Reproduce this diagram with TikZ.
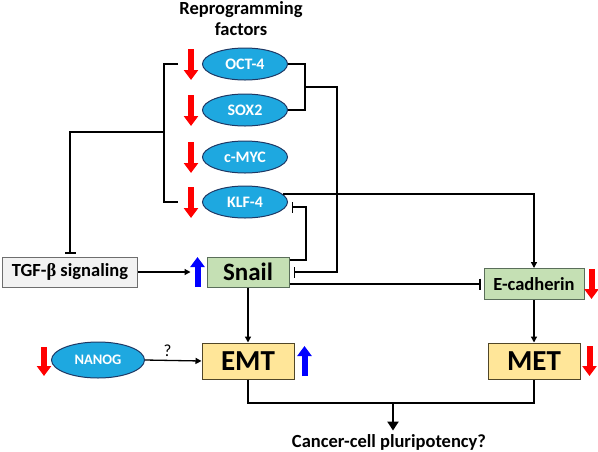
\documentclass[tikz,border=0pt]{standalone}
\usepackage{fontspec}
\setmainfont{Carlito}
\newfontfamily\greekfont{Liberation Serif}
\usepackage{tikz}
\usetikzlibrary{shapes.geometric}
\usetikzlibrary{arrows.meta}
\definecolor{tfblue}{RGB}{30,168,224}
\definecolor{tfedge}{RGB}{31,56,100}
\definecolor{boxgreen}{RGB}{197,224,180}
\definecolor{greenedge}{RGB}{90,110,90}
\definecolor{boxyellow}{RGB}{255,230,153}
\definecolor{yellowedge}{RGB}{80,70,40}
\definecolor{boxgray}{RGB}{242,242,242}
\definecolor{grayedge}{RGB}{110,110,110}

\begin{document}
\begin{tikzpicture}[x=1pt,y=-1pt,
    tf/.style={ellipse,draw=tfedge,line width=1pt,fill=tfblue,text=white,font=\bfseries\fontsize{16}{18}\selectfont,minimum width=85pt,minimum height=32pt,inner sep=0pt},
    gbox/.style={draw=greenedge,line width=1pt,fill=boxgreen,inner sep=0pt},
    ybox/.style={draw=yellowedge,line width=1pt,fill=boxyellow,inner sep=0pt,minimum width=92pt,minimum height=36pt,font=\bfseries\fontsize{29}{30}\selectfont},
    arr/.style={line width=1.3pt,-{Triangle[length=6pt,width=6pt]}},
    inh/.style={line width=1.3pt,-{Bar[width=11pt,line width=1.3pt]},shorten >=4pt},
    dn/.style={line width=6pt,red,-{Triangle[length=10pt,width=14pt]}},
    upa/.style={line width=6pt,blue,-{Triangle[length=10pt,width=14pt]}}
  ]
                \useasboundingbox (0,0) rectangle (598,451);
                \node[align=center,font=\bfseries\fontsize{18.5}{21}\selectfont] (title) at (241,19) {Reprogramming\\factors};
                \node[tf] (oct) at (245,64) {OCT-4};
                \node[tf] (sox) at (245,110) {SOX2};
                \node[tf] (myc) at (245,157) {c-MYC};
                \node[tf] (klf) at (245,202) {KLF-4};
                \node[draw=grayedge,line width=1pt,fill=boxgray,minimum width=135pt,minimum height=30pt,inner sep=0pt,font=\bfseries\fontsize{18.5}{20}\selectfont] (tgf) at (70,272) {TGF-{\greekfont β} signaling};
                \node[gbox,minimum width=82pt,minimum height=30pt,font=\bfseries\fontsize{25}{26}\selectfont] (snail) at (248,272) {Snail};
                \node[gbox,minimum width=100pt,minimum height=31pt,font=\bfseries\fontsize{18.5}{20}\selectfont] (ecad) at (534,284) {E-cadherin};
                \node[ybox] (emt) at (248,361) {EMT};
                \node[ybox] (met) at (534,361) {MET};
                \node[tf,minimum width=93pt,minimum height=36pt,font=\bfseries\fontsize{14.5}{16}\selectfont] (nanog) at (98,360) {NANOG};
                \node[font=\bfseries\fontsize{18.5}{20}\selectfont] (cpl) at (389,442) {Cancer-cell pluripotency?};
                \coordinate (brk) at (164,132);
                \coordinate (rb) at (305,87);
                \coordinate (mrg) at (393,403);
                \draw[line width=1.3pt] (178,64) -- (164,64) -- (164,202) -- (178,202);
                \draw[inh,shorten >=3pt] (brk) -| (tgf.north);
                \draw[line width=1.3pt] (oct.east) -- ++(17,0) |- (sox.east);
                \draw[inh] (rb) -- (337,87) |- (snail.east);
                \draw[inh] ([yshift=12pt]snail.east) -| ([xshift=18pt,yshift=-5pt]klf.east) -- ([yshift=-5pt]klf.east);
                \draw[inh,shorten >=3pt] (snail.east |- ecad.west) -- (ecad.west);
                \draw[arr] (klf.12) -| (ecad.north);
                \draw[arr] (tgf.east) -- ([xshift=-16pt]snail.west);
                \draw[arr] (snail.south) -- (emt.north);
                \draw[arr] (ecad.south) -- (met.north);
                \draw[arr] (nanog.east) -- (emt.west) node[pos=0.4,above,font=\fontsize{17}{18}\selectfont] {?};
                \draw[line width=1.3pt] (emt.south) |- (mrg) -| (met.south);
                \draw[line width=2.5pt,-{Triangle[length=9pt,width=11pt]}] (mrg) -- (mrg |- cpl.north);
                \foreach \f in {oct,sox,myc,klf}
                    \draw[dn] (\f.west) ++(-11,-15) -- ++(0,31);
                \draw[upa] (snail.west) ++(-9,15) -- ++(0,-30);
                \draw[upa] (emt.east) ++(10,15) -- ++(0,-30);
                \draw[dn] (ecad.east) ++(7,-15) -- ++(0,30);
                \draw[dn] (met.east) ++(9,-15) -- ++(0,30);
                \draw[dn] (nanog.west) ++(-7,-13) -- ++(0,29);
            \end{tikzpicture}
\end{document}
